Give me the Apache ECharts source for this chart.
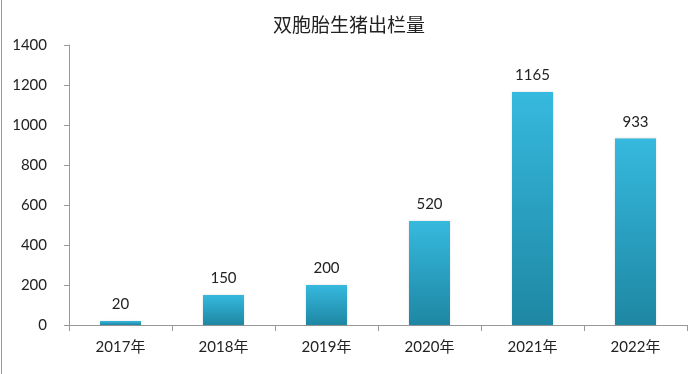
<!DOCTYPE html>
<html><head><meta charset="utf-8">
<script src="https://cdn.jsdelivr.net/npm/echarts@6/dist/echarts.min.js"></script>
<style>html,body{margin:0;padding:0;background:#fff;}#c{width:698px;height:374px;}</style>
</head><body><div id="c"></div>
<script>
const title = '双胞胎生猪出栏量';
const categories = ['2017年','2018年','2019年','2020年','2021年','2022年'];
const values = [20,150,200,520,1165,933];
const yTicks = [0,200,400,600,800,1000,1200,1400];
const chart = echarts.init(document.getElementById('c'));
const font = 'Lato, "Noto Sans CJK SC", sans-serif';
chart.setOption({
  animation:false,
  backgroundColor:'#fff',
  title:{text:title,left:'center',top:10,textStyle:{fontFamily:'"Noto Sans CJK SC", serif',fontSize:19,fontWeight:'normal',color:'#222'}},
  graphic:[{type:'line',shape:{x1:1.5,y1:0,x2:1.5,y2:374},style:{stroke:'#999',lineWidth:1}}],
  grid:{left:69,right:11,top:45,bottom:49},
  xAxis:{type:'category',data:categories,
    axisLine:{lineStyle:{color:'#999'}},
    axisTick:{show:true,length:6,lineStyle:{color:'#999'}},
    axisLabel:{color:'#222',fontSize:15,fontFamily:font,margin:15}},
  yAxis:{type:'value',min:yTicks[0],max:yTicks[yTicks.length-1],interval:200,
    axisLine:{show:true,lineStyle:{color:'#999'}},
    axisTick:{show:true,length:5,lineStyle:{color:'#999'}},
    splitLine:{show:false},
    axisLabel:{color:'#222',fontSize:15,fontFamily:font,margin:22,align:'right',formatter:v=>String(v)}},
  series:[{type:'bar',data:values,barWidth:41,
    itemStyle:{color:new echarts.graphic.LinearGradient(0,0,0,1,[{offset:0,color:'#36b9de'},{offset:1,color:'#1e87a3'}]),
      shadowColor:'rgba(0,0,0,0.15)',shadowBlur:2},
    label:{show:true,position:'top',distance:9,color:'#222',fontSize:15,fontFamily:font}}]
});
</script></body></html>
